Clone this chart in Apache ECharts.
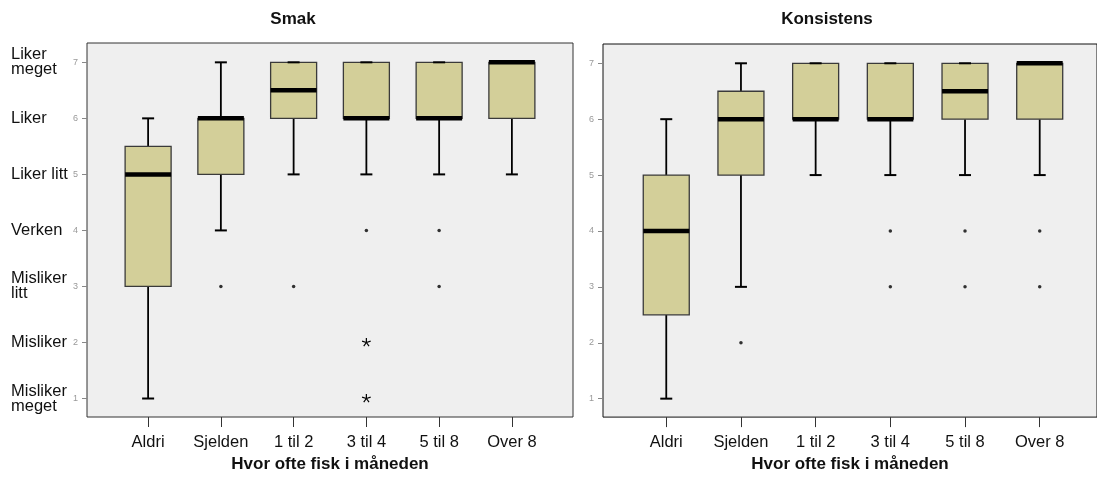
<!DOCTYPE html>
<html><head><meta charset="utf-8">
<script src="https://cdn.jsdelivr.net/npm/echarts@6/dist/echarts.min.js"></script>
<style>html,body{margin:0;padding:0;background:#fff}#c{width:1097px;height:478px}</style>
</head><body><div id="c"></div>
<script>
// ---- data ----
const categories = ['Aldri', 'Sjelden', '1 til 2', '3 til 4', '5 til 8', 'Over 8'];
const categoryPositions = [1, 2, 3, 4, 5, 6];
const yTickValues = [1, 2, 3, 4, 5, 6, 7];
const yNames = ['Misliker\nmeget', 'Misliker', 'Misliker\nlitt', 'Verken', 'Liker litt', 'Liker', 'Liker\nmeget'];
// [min whisker, Q1, median, Q3, max whisker]
const smakBox = [[1, 3, 5, 5.5, 6], [4, 5, 6, 6, 7], [5, 6, 6.5, 7, 7], [5, 6, 6, 7, 7], [5, 6, 6, 7, 7], [5, 6, 7, 7, 7]];
// [category position, value]
const smakOutliers = [[2, 3], [3, 3], [4, 4], [5, 4], [5, 3]];
const smakExtremes = [[4, 2], [4, 1]];
const konsBox = [[1, 2.5, 4, 5, 6], [3, 5, 6, 6.5, 7], [5, 6, 6, 7, 7], [5, 6, 6, 7, 7], [5, 6, 6.5, 7, 7], [5, 6, 7, 7, 7]];
const konsOutliers = [[2, 2], [4, 4], [4, 3], [5, 4], [5, 3], [6, 4], [6, 3]];
const konsExtremes = [];

const FONT = 'Liberation Sans, Arial, sans-serif';
const BOX_FILL = '#d3cf99';

function boxData(arr) { return arr.map((r, i) => [categoryPositions[i]].concat(r)); }

function renderBox(params, api) {
  const x = api.value(0);
  const pMin = api.coord([x, api.value(1)]);
  const pQ1 = api.coord([x, api.value(2)]);
  const pMed = api.coord([x, api.value(3)]);
  const pQ3 = api.coord([x, api.value(4)]);
  const pMax = api.coord([x, api.value(5)]);
  const cx = pMin[0], hw = 23, cw = 6;
  const ls = { stroke: '#000', lineWidth: 1.8 };
  return {
    type: 'group',
    children: [
      { type: 'line', shape: { x1: cx, y1: pQ1[1], x2: cx, y2: pMin[1] }, style: ls },
      { type: 'line', shape: { x1: cx, y1: pQ3[1], x2: cx, y2: pMax[1] }, style: ls },
      { type: 'rect', shape: { x: cx - hw, y: pQ3[1], width: hw * 2, height: pQ1[1] - pQ3[1] },
        style: { fill: BOX_FILL, stroke: '#3a3a3a', lineWidth: 1.3 } },
      { type: 'line', shape: { x1: cx - cw, y1: pMin[1], x2: cx + cw, y2: pMin[1] }, style: { stroke: '#000', lineWidth: 2 } },
      { type: 'line', shape: { x1: cx - cw, y1: pMax[1], x2: cx + cw, y2: pMax[1] }, style: { stroke: '#000', lineWidth: 2 } },
      { type: 'line', shape: { x1: cx - hw, y1: pMed[1], x2: cx + hw, y2: pMed[1] }, style: { stroke: '#000', lineWidth: 4.5 } }
    ]
  };
}

function renderStar(params, api) {
  const p = api.coord([api.value(0), api.value(1)]);
  const r = 4.5, children = [];
  for (let k = 0; k < 5; k++) {
    const a = -Math.PI / 2 + k * 2 * Math.PI / 5;
    children.push({ type: 'line', shape: { x1: p[0], y1: p[1], x2: p[0] + r * Math.cos(a), y2: p[1] + r * Math.sin(a) },
      style: { stroke: '#000', lineWidth: 1.2 } });
  }
  return { type: 'group', children };
}

function xAxisCfg(gridIndex, min, max) {
  return {
    type: 'value', gridIndex, min, max,
    splitLine: { show: false },
    axisLine: { show: false },
    axisTick: { show: true, length: 10, customValues: categoryPositions, lineStyle: { color: '#333', width: 1 } },
    axisLabel: { customValues: categoryPositions, margin: 17, fontSize: 16.5, color: '#111', fontFamily: FONT,
      formatter: v => categories[Math.round(v) - 1] || '' },
    name: 'Hvor ofte fisk i måneden', nameLocation: 'middle', nameGap: 34,
    nameTextStyle: { fontSize: 17, fontWeight: 'bold', color: '#111', fontFamily: FONT }
  };
}
function yNumAxis(gridIndex) {
  return {
    type: 'value', gridIndex, position: 'left', min: 0.67, max: 7.345,
    splitLine: { show: false }, axisLine: { show: false },
    axisTick: { show: true, length: 5, customValues: yTickValues, lineStyle: { color: '#888' } },
    axisLabel: { customValues: yTickValues, margin: 9, fontSize: 9, color: '#999', fontFamily: FONT }
  };
}

const option = {
  animation: false,
  backgroundColor: '#fff',
  title: [
    { text: 'Smak', left: 288, top: 6, textAlign: 'center', textStyle: { fontSize: 17, fontWeight: 'bold', color: '#111', fontFamily: FONT } },
    { text: 'Konsistens', left: 822, top: 6, textAlign: 'center', textStyle: { fontSize: 17, fontWeight: 'bold', color: '#111', fontFamily: FONT } }
  ],
  grid: [
    { left: 87, top: 43, width: 486, height: 374, show: true, backgroundColor: '#efefef', borderColor: '#333', borderWidth: 1 },
    { left: 603, top: 44, width: 500, height: 375, show: true, backgroundColor: '#efefef', borderColor: '#111', borderWidth: 1 }
  ],
  xAxis: [xAxisCfg(0, 0.16, 6.84), xAxisCfg(1, 0.153, 6.767)],
  yAxis: [
    yNumAxis(0),
    {
      type: 'value', gridIndex: 0, position: 'left', min: 0.67, max: 7.345,
      splitLine: { show: false }, axisLine: { show: false }, axisTick: { show: false },
      axisLabel: { customValues: yTickValues, margin: 76, align: 'left', fontSize: 16.5, lineHeight: 15, color: '#111', fontFamily: FONT,
        formatter: v => yNames[Math.round(v) - 1] || '' }
    },
    yNumAxis(1)
  ],
  series: [
    { type: 'custom', xAxisIndex: 0, yAxisIndex: 0, data: boxData(smakBox), renderItem: renderBox, silent: true,
      encode: { x: 0, y: [1, 2, 3, 4, 5] } },
    { type: 'scatter', xAxisIndex: 0, yAxisIndex: 0, data: smakOutliers, symbol: 'circle', symbolSize: 3.5, silent: true,
      itemStyle: { color: '#000' } },
    { type: 'custom', xAxisIndex: 0, yAxisIndex: 0, data: smakExtremes, renderItem: renderStar, silent: true,
      encode: { x: 0, y: 1 } },
    { type: 'custom', xAxisIndex: 1, yAxisIndex: 2, data: boxData(konsBox), renderItem: renderBox, silent: true,
      encode: { x: 0, y: [1, 2, 3, 4, 5] } },
    { type: 'scatter', xAxisIndex: 1, yAxisIndex: 2, data: konsOutliers, symbol: 'circle', symbolSize: 3.5, silent: true,
      itemStyle: { color: '#000' } },
    { type: 'custom', xAxisIndex: 1, yAxisIndex: 2, data: konsExtremes, renderItem: renderStar, silent: true,
      encode: { x: 0, y: 1 } }
  ]
};
const chart = echarts.init(document.getElementById('c'), null, { renderer: 'canvas' });
chart.setOption(option);
</script>
</body></html>
